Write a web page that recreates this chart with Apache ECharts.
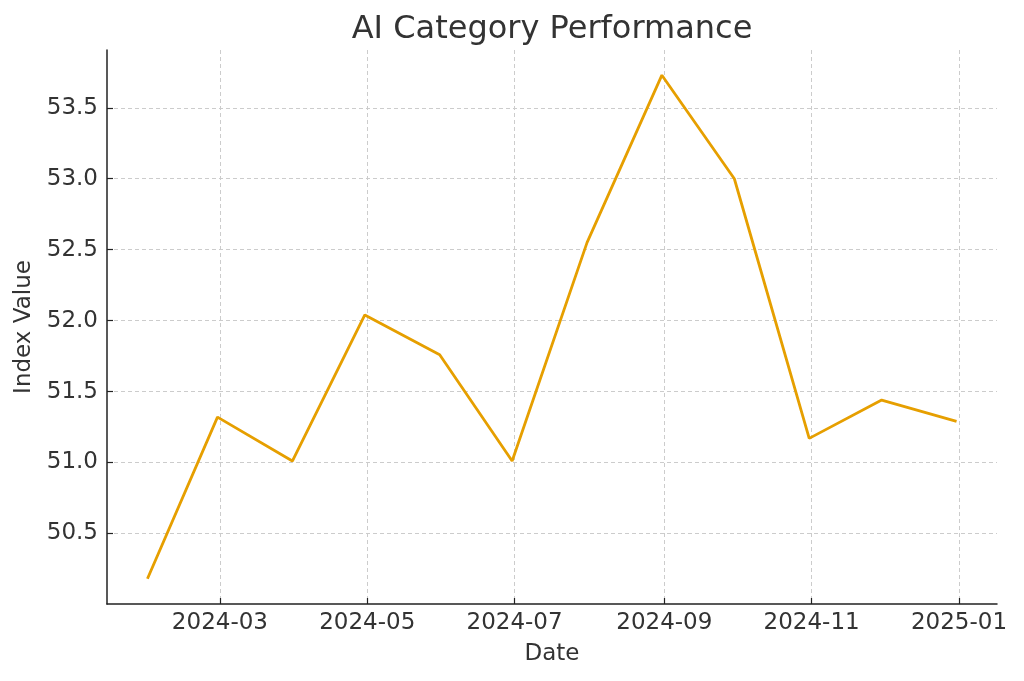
<!DOCTYPE html>
<html>
<head>
<meta charset="utf-8">
<script src="https://cdn.jsdelivr.net/npm/echarts@6/dist/echarts.min.js"></script>
<style>
html,body{margin:0;padding:0;background:#fff;}
#chart{width:1024px;height:681px;}
</style>
</head>
<body>
<div id="chart"></div>
<script>
// Data
const dates = ['2024-01-31','2024-02-29','2024-03-31','2024-04-30','2024-05-31','2024-06-30',
               '2024-07-31','2024-08-31','2024-09-30','2024-10-31','2024-11-30','2024-12-31'];
const values = [50.18, 51.32, 51.01, 52.04, 51.76, 51.01, 52.55, 53.73, 53.00, 51.17, 51.44, 51.29];
const xTickLabels = ['2024-03','2024-05','2024-07','2024-09','2024-11','2025-01'];
const yTickLabels = [50.5, 51.0, 51.5, 52.0, 52.5, 53.0, 53.5];

function toTs(s){
  const p = s.split('-').map(Number);
  return new Date(p[0], p[1]-1, p[2] || 1).getTime();
}
const xs = dates.map(toTs);
const xSpan = xs[xs.length-1] - xs[0];
const xMin = xs[0] - xSpan*0.05;
const xMax = xs[xs.length-1] + xSpan*0.05;
const yLo = Math.min(...values), yHi = Math.max(...values);
const yMin = yLo - (yHi-yLo)*0.05;
const yMax = yHi + (yHi-yLo)*0.05;
const xTicks = xTickLabels.map(toTs);

const font = 'DejaVu Sans';
const txt = '#333333';
const chart = echarts.init(document.getElementById('chart'), null, {renderer:'canvas'});
chart.setOption({
  animation: false,
  backgroundColor: '#ffffff',
  title: {
    text: 'AI Category Performance',
    left: 547, top: 9, textAlign: 'center',
    textStyle: {fontFamily: font, fontSize: 32, fontWeight: 'normal', color: txt}
  },
  grid: {left: 107, right: 27, top: 50, bottom: 77, containLabel: false},
  xAxis: {
    type: 'value', min: xMin, max: xMax, scale: true,
    name: 'Date', nameLocation: 'middle', nameGap: 39,
    nameTextStyle: {fontFamily: font, fontSize: 23, color: txt},
    axisLine: {show: true, lineStyle: {color: '#222', width: 1.5}},
    axisTick: {show: true, inside: true, length: 6, customValues: xTicks, lineStyle: {color: '#222', width: 1.2}},
    axisLabel: {
      customValues: xTicks, margin: 8, fontFamily: font, fontSize: 23, color: txt,
      formatter: function(v){ const d = new Date(v); return d.getFullYear() + '-' + String(d.getMonth()+1).padStart(2,'0'); }
    },
    splitLine: {show: true, lineStyle: {color: '#cccccc', width: 1, type: [4, 3]}}
  },
  yAxis: {
    type: 'value', min: yMin, max: yMax, scale: true,
    name: 'Index Value', nameLocation: 'middle', nameGap: 69,
    nameTextStyle: {fontFamily: font, fontSize: 23, color: txt},
    axisLine: {show: true, lineStyle: {color: '#222', width: 1.5}},
    axisTick: {show: true, inside: true, length: 6, customValues: yTickLabels, lineStyle: {color: '#222', width: 1.2}},
    axisLabel: {
      customValues: yTickLabels, margin: 9, fontFamily: font, fontSize: 23, color: txt,
      formatter: function(v){ return Number(v).toFixed(1); }
    },
    splitLine: {show: true, lineStyle: {color: '#cccccc', width: 1, type: [4, 3]}}
  },
  series: [{
    type: 'line',
    data: xs.map((x, i) => [x, values[i]]),
    showSymbol: false, symbol: 'none',
    lineStyle: {color: '#E69F00', width: 2.8},
    itemStyle: {color: '#E69F00'}
  }]
});
</script>
</body>
</html>
